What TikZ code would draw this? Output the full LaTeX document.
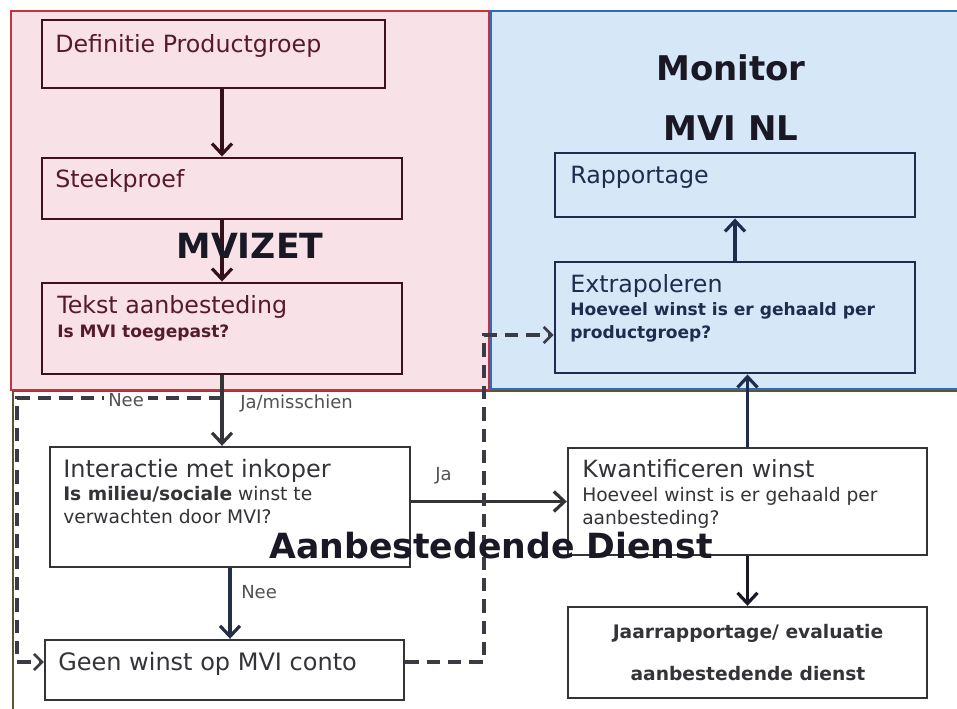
\documentclass[tikz,border=0pt]{standalone}
\usepackage{fontspec}
\setmainfont{DejaVu Sans}
\usetikzlibrary{arrows.meta,fit,positioning}

\definecolor{pinkfill}{RGB}{248,226,232}
\definecolor{pinkline}{RGB}{196,52,62}
\definecolor{bluefill}{RGB}{214,232,248}
\definecolor{blueline}{RGB}{46,108,184}
\definecolor{olive}{RGB}{92,84,52}
\definecolor{maroon}{RGB}{86,26,44}
\definecolor{navy}{RGB}{30,44,78}
\definecolor{ink}{RGB}{52,52,56}
\definecolor{heavy}{RGB}{26,24,36}

\tikzset{
  pbox/.style={draw=maroon!70!black, line width=2.2pt, inner sep=0pt},
  bbox/.style={draw=navy, line width=2.2pt, inner sep=0pt},
  wbox/.style={draw=ink, line width=1.8pt, inner sep=0pt, fill=white},
  head/.style={anchor=base west, inner sep=0pt, font=\fontsize{17.8}{21}\selectfont},
  sub/.style={anchor=base west, inner sep=0pt, align=left, font=\fontsize{14}{17.25}\selectfont},
  subbold/.style={sub, font=\fontsize{12.8}{17.25}\selectfont\bfseries},
  lbl/.style={anchor=base west, inner sep=0pt, text=ink!85, font=\fontsize{13.5}{16}\selectfont},
  panel/.style={anchor=base, inner sep=0pt, text=heavy, font=\fontsize{26}{30}\selectfont\bfseries},
  flow/.style={line width=2.8pt, -{Straight Barb[length=8pt,width=15pt,line width=2.4pt]}},
  nee/.style={line width=2.4pt, dash pattern=on 10pt off 6pt, -{Straight Barb[length=6pt,width=12pt,line width=2pt]}},
}

\begin{document}
\begin{tikzpicture}[x=0.75pt,y=0.75pt,yscale=-1]
\useasboundingbox (0,0) rectangle (957,708);
\fill[white] (0,0) rectangle (957,708);

% panels
\draw[olive, line width=1.2pt] (13,391) rectangle (970,720);
\draw[pinkline, fill=pinkfill, line width=1.5pt] (11,11) rectangle (489,390);
\draw[blueline, fill=bluefill, line width=2pt] (491,11) rectangle (970,389);

% MVIZET
\node[pbox, fit={(42,20) (385,88)}] (def) {};
\node[pbox, fit={(42,158) (402,219)}] (steek) {};
\node[pbox, fit={(42,283) (402,374)}] (tekst) {};
\node[head, text=maroon] (defT) at (55,52) {Definitie Productgroep};
\node[head, text=maroon] (steekT) at (55,187) {Steekproef};
\node[head, text=maroon] (tekstT) at (57,313) {Tekst aanbesteding};
\node[subbold, text=maroon] (tekstS) at (57,337) {Is MVI toegepast?};

% Monitor MVI NL
\node[bbox, fit={(555,153) (915,217)}] (rapp) {};
\node[bbox, fit={(555,262) (915,373)}] (extra) {};
\node[head, text=navy] (rappT) at (570,183) {Rapportage};
\node[head, text=navy] (extraT) at (570,292) {Extrapoleren};
\node[subbold, text=navy] (extraS) at (570,338) {Hoeveel winst is er gehaald per\\productgroep?};

% Aanbestedende Dienst
\node[wbox, fit={(50,447) (410,567)}] (inter) {};
\node[wbox, fit={(45,640) (404,700)}] (geen) {};
\node[wbox, fit={(568,448) (927,555)}] (kwant) {};
\node[wbox, fit={(568,607) (927,698)}] (jaar) {};
\node[head, text=ink, font=\fontsize{18}{21}\selectfont] (interT) at (63,477) {Interactie met inkoper};
\node[sub, text=ink] (interS) at (63,523) {\textbf{Is milieu/sociale} winst te\\verwachten door MVI?};
\node[head, text=ink, font=\fontsize{18}{21}\selectfont] (geenT) at (58,670) {Geen winst op MVI conto};
\node[head, text=ink] (kwantT) at (582,477) {Kwantificeren winst};
\node[sub, text=ink] (kwantS) at (582,524) {Hoeveel winst is er gehaald per\\aanbesteding?};
\node[anchor=base, inner sep=0pt, text=ink, align=center, font=\fontsize{14}{31.5}\selectfont\bfseries] (jaarT) at (748,680) {Jaarrapportage/ evaluatie\\aanbestedende dienst};

% connectors
\draw[flow, maroon!60!black] (steek.north |- def.south) -- (steek.north);
\draw[flow, maroon!60!black] (steek) -- (tekst);
\draw[flow, ink] (tekst) -- (tekst.south |- inter.north);
\draw[flow, navy] (extra.north) -- (extra.north |- rapp.south);
\draw[flow, navy] (kwant.north) -- (kwant.north |- extra.south);
\draw[flow, heavy] (kwant) -- (jaar);
\draw[flow, navy!70!ink] (inter.south) -- (inter.south |- geen.north);
\draw[flow, ink] (kwant.west -| inter.east) -- (kwant.west);
\draw[nee, heavy!85] (tekst.south |- 0,398) -- (17,398) -- (17,662) -- (geen.west |- 0,662);
\draw[nee, heavy!85] (geen.east |- 0,662) -- (484,662) -- (484,335) -- (extra.west |- 0,335);

% labels
\node[lbl, fill=white, inner xsep=3pt] (neeA) at (104,406) {Nee};
\node[lbl] (jaMis) at (240,408) {Ja/misschien};
\node[lbl] (neeB) at (241,598) {Nee};
\node[lbl] (jaA) at (435,480) {Ja};

% panel titles
\node[panel] (mvizet) at (250,258) {MVIZET};
\node[panel, font=\fontsize{25.5}{30}\selectfont\bfseries] (monitor) at (731,80) {Monitor};
\node[panel, font=\fontsize{25.5}{30}\selectfont\bfseries] (mvinl) at (731,140) {MVI NL};
\node[panel] (aanb) at (491,558) {Aanbestedende Dienst};

\end{tikzpicture}
\end{document}
